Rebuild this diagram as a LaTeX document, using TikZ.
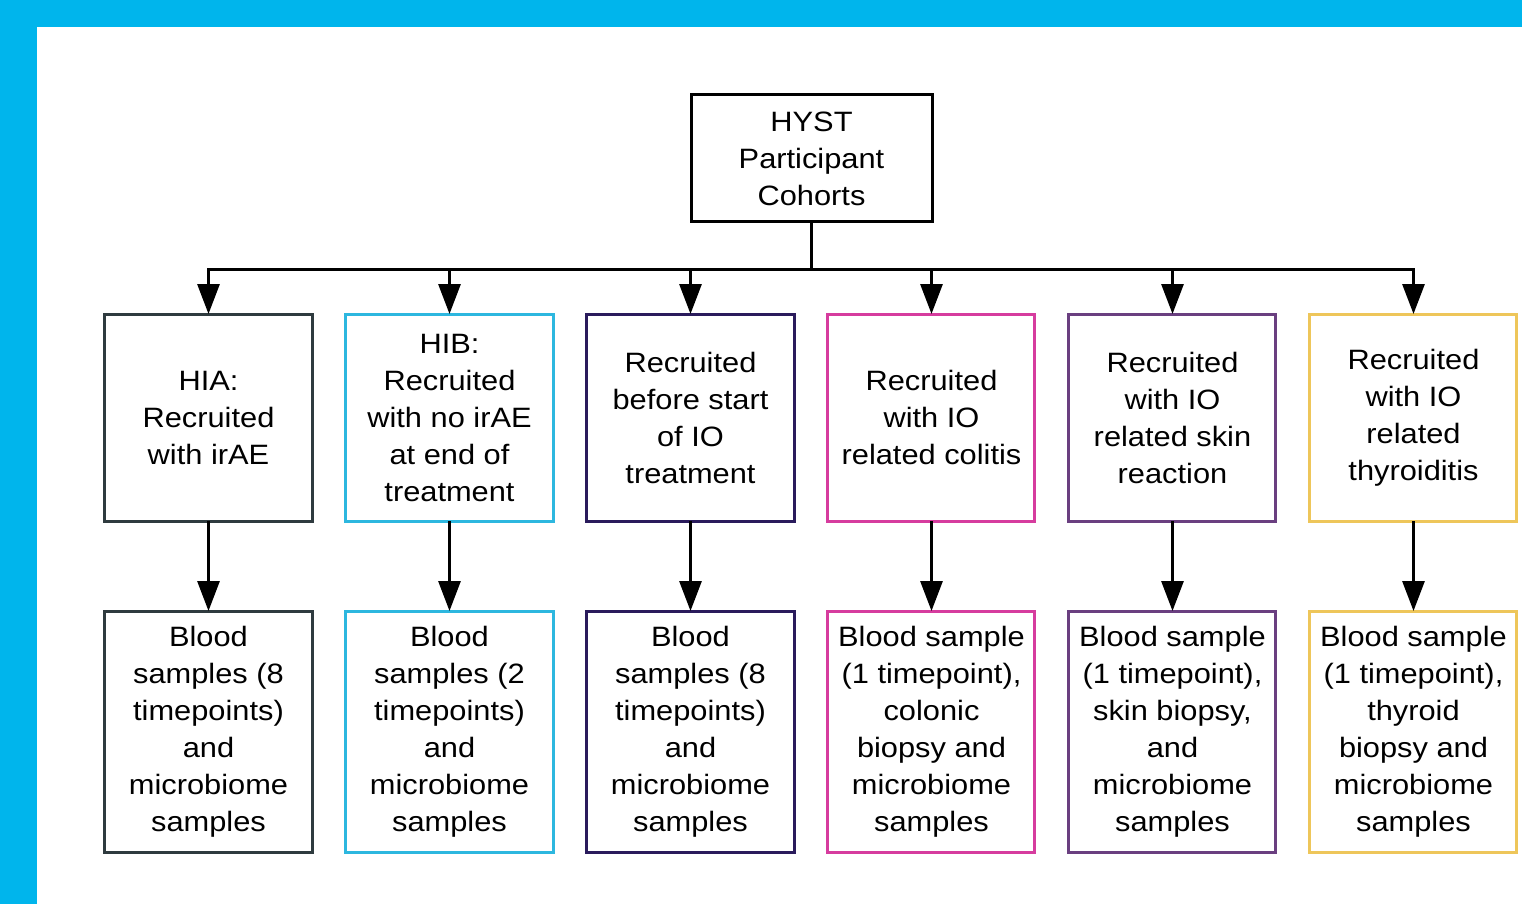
\documentclass[tikz,border=0pt]{standalone}
\usepackage{fontspec}
\setmainfont{Liberation Sans}[FakeStretch=1.1]
\usepackage{tikz}
\usetikzlibrary{arrows.meta}
\usetikzlibrary{positioning}
\definecolor{frame}{HTML}{00B5EC}
\definecolor{hiacol}{HTML}{2F3B3F}
\definecolor{hibcol}{HTML}{2DB7DF}
\definecolor{precol}{HTML}{2A1B5C}
\definecolor{colcol}{HTML}{D63C9E}
\definecolor{skncol}{HTML}{6A3F80}
\definecolor{thycol}{HTML}{EEC65A}
\newcommand{\cnode}[3]{\node(#1)[item,draw=#2]{#3}}
\newcommand{\snode}[3]{\node(#1)[sample,draw=#2]{#3}}

\begin{document}
\begin{tikzpicture}[
        every node/.style={font=\fontsize{14}{18.5}\selectfont},
        box/.style={rectangle,line width=1.5pt,align=center,
                    inner sep=0pt,outer sep=0pt,fill=white},
        item/.style={box,minimum width=103.5pt,minimum height=103.5pt},
        sample/.style={box,minimum width=103.5pt,minimum height=120.5pt},
        top/.style={box,draw=black,minimum width=120.5pt,minimum height=63.5pt},
        arr/.style={line width=1.5pt,-{Triangle[width=11pt,length=15pt]}}
      ]
      % frame
      \useasboundingbox (0,0) rectangle (761pt,-452pt);
      \fill[frame] (0,0) rectangle (761pt,-452pt);
      \fill[white] (18.5pt,-13.5pt) rectangle (761pt,-452pt);

      \node (hyst) [top] at (405.75pt,-79.25pt) {HYST\\Participant\\Cohorts};
      \coordinate (bar) at (0,-134.5pt);

      \matrix[anchor=north west, inner sep=0pt, outer sep=0pt,
              row sep=43.5pt, column sep=15.5pt] at (51.75pt,-156.25pt) {
        \cnode{hia}{hiacol}{HIA:\\Recruited\\with irAE}; &
        \cnode{hib}{hibcol}{HIB:\\Recruited\\with no irAE\\at end of\\treatment}; &
        \cnode{pre}{precol}{Recruited\\before start\\of IO\\treatment}; &
        \cnode{col}{colcol}{Recruited\\with IO\\related colitis}; &
        \cnode{skn}{skncol}{Recruited\\with IO\\related skin\\reaction}; &
        \cnode{thy}{thycol}{Recruited\\with IO\\related\\thyroiditis}; \\
        \snode{hias}{hiacol}{Blood\\samples (8\\timepoints)\\and\\microbiome\\samples}; &
        \snode{hibs}{hibcol}{Blood\\samples (2\\timepoints)\\and\\microbiome\\samples}; &
        \snode{pres}{precol}{Blood\\samples (8\\timepoints)\\and\\microbiome\\samples}; &
        \snode{cols}{colcol}{Blood sample\\(1 timepoint),\\colonic\\biopsy and\\microbiome\\samples}; &
        \snode{skns}{skncol}{Blood sample\\(1 timepoint),\\skin biopsy,\\and\\microbiome\\samples}; &
        \snode{thys}{thycol}{Blood sample\\(1 timepoint),\\thyroid\\biopsy and\\microbiome\\samples}; \\
      };

      % cohorts
      \draw[arr] (hyst.south) -- (hyst.south |- bar) -| (hia.north);
      \draw[arr] (hyst.south) -- (hyst.south |- bar) -| (hib.north);
      \draw[arr] (hyst.south) -- (hyst.south |- bar) -| (pre.north);
      \draw[arr] (hyst.south) -- (hyst.south |- bar) -| (col.north);
      \draw[arr] (hyst.south) -- (hyst.south |- bar) -| (skn.north);
      \draw[arr] (hyst.south) -- (hyst.south |- bar) -| (thy.north);

      % samples
      \draw[arr] (hia) -- (hias);
      \draw[arr] (hib) -- (hibs);
      \draw[arr] (pre) -- (pres);
      \draw[arr] (col) -- (cols);
      \draw[arr] (skn) -- (skns);
      \draw[arr] (thy) -- (thys);

    \end{tikzpicture}
\end{document}
